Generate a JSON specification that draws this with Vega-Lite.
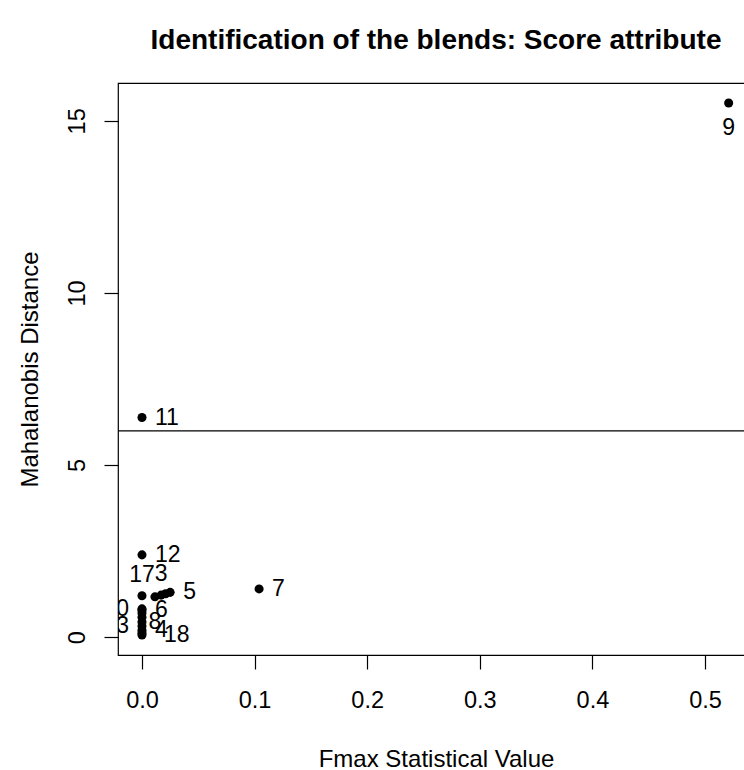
{
  "$schema": "https://vega.github.io/schema/vega-lite/v6.json",
  "autosize": "none",
  "padding": {"left": 118, "top": 83, "right": 0, "bottom": 115},
  "width": 636,
  "height": 572,
  "background": "white",
  "title": {
    "text": "Identification of the blends: Score attribute",
    "font": "Liberation Sans",
    "fontSize": 28,
    "fontWeight": "bold",
    "color": "black",
    "anchor": "middle",
    "frame": "group",
    "baseline": "alphabetic",
    "offset": 6
  },
  "config": {
    "view": {"stroke": "black", "strokeWidth": 1.2},
    "axis": {
      "labelFont": "Liberation Sans",
      "titleFont": "Liberation Sans",
      "labelFontSize": 23.5,
      "titleFontSize": 24,
      "titleFontWeight": "normal",
      "labelColor": "black",
      "titleColor": "black",
      "tickColor": "black",
      "tickSize": 14,
      "tickWidth": 1.2,
      "domain": false,
      "grid": false
    }
  },
  "data": {
    "values": [
      {"id": 9, "fmax": 0.521, "md": 15.52},
      {"id": 11, "fmax": 0.0, "md": 6.38},
      {"id": 12, "fmax": 0.0, "md": 2.39},
      {"id": 7, "fmax": 0.104, "md": 1.40},
      {"id": 17, "fmax": 0.0, "md": 1.20},
      {"id": 8, "fmax": 0.0115, "md": 1.17},
      {"id": 3, "fmax": 0.017, "md": 1.22},
      {"id": 15, "fmax": 0.021, "md": 1.26},
      {"id": 5, "fmax": 0.025, "md": 1.30},
      {"id": 10, "fmax": 0.0, "md": 0.82},
      {"id": 6, "fmax": 0.0, "md": 0.79},
      {"id": 16, "fmax": 0.0, "md": 0.70},
      {"id": 1, "fmax": 0.0, "md": 0.58},
      {"id": 14, "fmax": 0.0, "md": 0.44},
      {"id": 13, "fmax": 0.0, "md": 0.32},
      {"id": 4, "fmax": 0.0, "md": 0.20},
      {"id": 2, "fmax": 0.0, "md": 0.12},
      {"id": 18, "fmax": 0.0, "md": 0.06}
    ]
  },
  "encoding": {
    "x": {
      "field": "fmax",
      "type": "quantitative",
      "scale": {"domain": [-0.0213, 0.5435], "nice": false, "zero": false},
      "axis": {
        "values": [0, 0.1, 0.2, 0.3, 0.4, 0.5],
        "format": ".1f",
        "labelPadding": 38,
        "labelBaseline": "alphabetic",
        "title": "Fmax Statistical Value",
        "titleY": 111,
        "titleBaseline": "alphabetic"
      }
    },
    "y": {
      "field": "md",
      "type": "quantitative",
      "scale": {"domain": [-0.52, 16.1], "nice": false, "zero": false},
      "axis": {
        "values": [0, 5, 10, 15],
        "format": "d",
        "labelAngle": -90,
        "labelAlign": "center",
        "labelBaseline": "alphabetic",
        "labelPadding": 20,
        "title": "Mahalanobis Distance",
        "titleAngle": -90,
        "titleX": -81,
        "titleY": 286,
        "titleAlign": "center",
        "titleBaseline": "alphabetic"
      }
    }
  },
  "layer": [
    {
      "data": {"values": [{"threshold": 5.99}]},
      "mark": {"type": "rule", "color": "black", "strokeWidth": 1.3},
      "encoding": {"x": null, "y": {"field": "threshold", "type": "quantitative"}}
    },
    {
      "mark": {"type": "point", "filled": true, "shape": "circle", "size": 82, "color": "black", "opacity": 1}
    },
    {
      "transform": [{"filter": {"field": "id", "oneOf": [11, 12, 5, 7, 6, 4]}}],
      "mark": {"type": "text", "align": "left", "baseline": "middle", "dx": 13, "font": "Liberation Sans", "fontSize": 23, "color": "black", "clip": true},
      "encoding": {"text": {"field": "id", "type": "nominal"}}
    },
    {
      "transform": [{"filter": {"field": "id", "oneOf": [18]}}],
      "mark": {"type": "text", "align": "left", "baseline": "middle", "dx": 22, "font": "Liberation Sans", "fontSize": 23, "color": "black", "clip": true},
      "encoding": {"text": {"field": "id", "type": "nominal"}}
    },
    {
      "transform": [{"filter": {"field": "id", "oneOf": [17, 3]}}],
      "mark": {"type": "text", "align": "center", "baseline": "middle", "dy": -21, "font": "Liberation Sans", "fontSize": 23, "color": "black", "clip": true},
      "encoding": {"text": {"field": "id", "type": "nominal"}}
    },
    {
      "transform": [{"filter": {"field": "id", "oneOf": [9, 8]}}],
      "mark": {"type": "text", "align": "center", "baseline": "middle", "dy": 25, "font": "Liberation Sans", "fontSize": 23, "color": "black", "clip": true},
      "encoding": {"text": {"field": "id", "type": "nominal"}}
    },
    {
      "transform": [{"filter": {"field": "id", "oneOf": [10, 13]}}],
      "mark": {"type": "text", "align": "right", "baseline": "middle", "dx": -13, "font": "Liberation Sans", "fontSize": 23, "color": "black", "clip": true},
      "encoding": {"text": {"field": "id", "type": "nominal"}}
    }
  ]
}
